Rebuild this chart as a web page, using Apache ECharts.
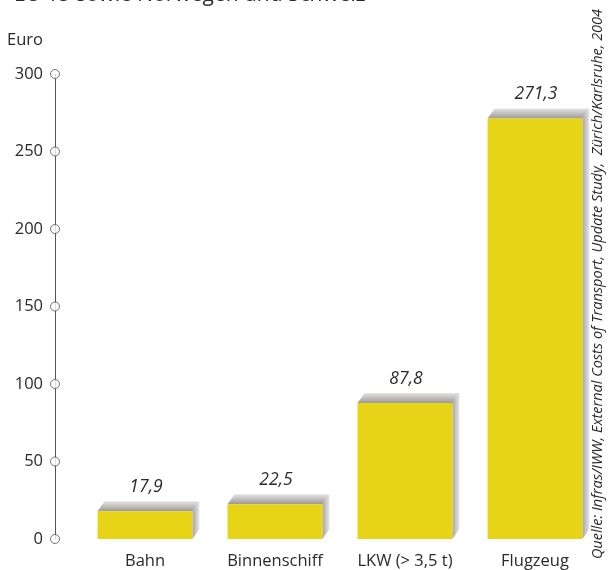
<!DOCTYPE html>
<html><head><meta charset="utf-8">
<script src="https://cdn.jsdelivr.net/npm/echarts@6/dist/echarts.min.js"></script>
<style>html,body{margin:0;padding:0;background:#fff}#c{width:610px;height:570px}</style>
</head><body><div id="c"></div>
<script>
const categories = ['Bahn', 'Binnenschiff', 'LKW (> 3,5 t)', 'Flugzeug'];
const values = [17.9, 22.5, 87.8, 271.3];
const valueLabels = ['17,9', '22,5', '87,8', '271,3'];
const yTicks = [0, 50, 100, 150, 200, 250, 300];
const titleText = 'EU 15 sowie Norwegen und Schweiz';
const unitText = 'Euro';
const sourceText = 'Quelle: Infras/IWW, External Costs of Transport, Update Study,  Zürich/Karlsruhe, 2004';

const FONT = 'Open Sans';
const chart = echarts.init(document.getElementById('c'));
const DX = 7, DY = 10;

chart.setOption({
  animation: false,
  grid: [
    {left: 80, right: 10, top: 74, bottom: 31},
    {left: 55, width: 10, top: 74, bottom: 31}
  ],
  xAxis: [
    {type: 'category', data: categories, gridIndex: 0,
     axisLine: {show: false}, axisTick: {show: false},
     axisLabel: {color: '#2a2a2a', fontSize: 16.5, fontFamily: FONT, margin: 14}},
    {type: 'value', gridIndex: 1, min: 0, max: 1, show: false}
  ],
  yAxis: [
    {type: 'value', gridIndex: 0, min: 0, max: 300, interval: 50, show: false},
    {type: 'value', gridIndex: 1, min: 0, max: 300, interval: 50,
     axisLine: {show: true, lineStyle: {color: '#555', width: 1}},
     axisTick: {show: false}, splitLine: {show: false},
     axisLabel: {color: '#2a2a2a', fontSize: 16.5, fontFamily: FONT, margin: 12}}
  ],
  series: [
    {
      type: 'custom', xAxisIndex: 0, yAxisIndex: 0,
      data: values.map((v, i) => [i, v]),
      renderItem: function (params, api) {
        const top = api.coord([api.value(0), api.value(1)]);
        const bot = api.coord([api.value(0), 0]);
        const w = api.size([1, 0])[0] * 0.73;
        const x0 = top[0] - w / 2, x1 = top[0] + w / 2;
        const yT = top[1], yB = bot[1];
        const idx = params.dataIndex;
        return {
          type: 'group',
          children: [
            {type: 'polygon', shape: {points: [[x0, yT], [x0 + DX, yT - DY], [x1 + DX, yT - DY], [x1, yT]]},
             style: {fill: new echarts.graphic.LinearGradient(0, 0, 0, 1, [
               {offset: 0, color: '#e6e4e4'}, {offset: 1, color: '#9c9898'}])}},
            {type: 'polygon', shape: {points: [[x1, yT], [x1 + DX, yT - DY], [x1 + DX, yB - DY], [x1, yB]]},
             style: {fill: new echarts.graphic.LinearGradient(0, 0, 1, 0, [
               {offset: 0, color: '#a8a4a4'}, {offset: 1, color: '#e8e6e6'}])}},
            {type: 'rect', shape: {x: x0, y: yT, width: w, height: yB - yT},
             style: {fill: '#e8d417'}},
            {type: 'text', x: top[0] + 1, y: yT - DY - 5,
             style: {text: valueLabels[idx], fill: '#2a2a2a', fontSize: 17.5, fontStyle: 'italic',
                     fontFamily: FONT, align: 'center', verticalAlign: 'bottom'}}
          ]
        };
      }
    },
    {
      type: 'scatter', xAxisIndex: 1, yAxisIndex: 1, clip: false,
      data: yTicks.map(v => [0, v]),
      symbol: 'circle', symbolSize: 9,
      itemStyle: {color: '#fff', borderColor: '#555', borderWidth: 1},
      z: 5
    }
  ],
  graphic: [
    {type: 'text', left: 14, top: -15, z: 100,
     style: {text: titleText, fill: '#2a2a2a', fontSize: 21, fontFamily: FONT}},
    {type: 'text', left: 7, top: 32, z: 100,
     style: {text: unitText, fill: '#2a2a2a', fontSize: 16.5, fontFamily: FONT}},
    {type: 'text', x: 598, y: 284, rotation: Math.PI / 2, z: 100,
     style: {text: sourceText, fill: '#2a2a2a', fontSize: 14.5, fontStyle: 'italic',
             fontFamily: FONT, align: 'center', verticalAlign: 'middle'}}
  ]
});
</script></body></html>
